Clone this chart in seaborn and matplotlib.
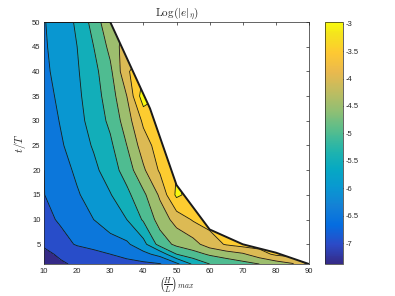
import numpy as np
import matplotlib
matplotlib.use("Agg")
import matplotlib.pyplot as plt
import seaborn as sns
from matplotlib.colors import LinearSegmentedColormap, Normalize
from matplotlib.patches import Polygon

# grid: (H/L)_max along x, t/T along y
hl = [10, 15, 20, 25, 30, 35, 40, 45, 50, 55, 60, 65, 70, 75, 80, 85, 90]
tt = [1, 3, 5, 10, 15, 20, 25, 30, 35, 40, 45, 50]

# Log(|e|_eta), one row per t/T value (cells past the limit curve only pad the grid)
log_err = [
    [-7.25, -7.05, -6.94, -6.86, -6.78, -6.70, -6.61, -6.53, -6.12, -5.42, -5.00, -4.83, -4.67, -4.50, -4.27, -4.05, -3.40],
    [-7.09, -6.94, -6.79, -6.65, -6.50, -6.32, -6.14, -5.83, -5.00, -4.69, -4.43, -4.25, -4.07, -3.71, -3.40, -3.30, -3.30],
    [-6.95, -6.69, -6.45, -6.32, -6.20, -6.08, -5.67, -4.79, -4.38, -4.19, -3.75, -3.45, -3.30, -3.30, -3.30, -3.30, -3.30],
    [-6.65, -6.43, -6.22, -6.00, -5.75, -5.50, -4.94, -4.29, -3.81, -3.45, -3.30, -3.30, -3.30, -3.30, -3.30, -3.30, -3.30],
    [-6.51, -6.28, -6.05, -5.79, -5.53, -5.13, -4.61, -3.92, -2.90, -3.20, -3.30, -3.30, -3.30, -3.30, -3.30, -3.30, -3.30],
    [-6.50, -6.20, -5.91, -5.62, -5.25, -4.78, -4.08, -3.43, -3.00, -3.20, -3.30, -3.30, -3.30, -3.30, -3.30, -3.30, -3.30],
    [-6.37, -6.06, -5.76, -5.45, -5.10, -4.50, -3.75, -3.25, -3.20, -3.20, -3.20, -3.20, -3.20, -3.20, -3.20, -3.20, -3.20],
    [-6.28, -5.97, -5.66, -5.31, -4.89, -4.25, -3.40, -3.15, -3.20, -3.20, -3.20, -3.20, -3.20, -3.20, -3.20, -3.20, -3.20],
    [-6.19, -5.89, -5.60, -5.23, -4.75, -4.00, -2.70, -3.00, -3.20, -3.20, -3.20, -3.20, -3.20, -3.20, -3.20, -3.20, -3.20],
    [-6.10, -5.83, -5.55, -5.16, -4.61, -3.60, -3.00, -3.20, -3.20, -3.20, -3.20, -3.20, -3.20, -3.20, -3.20, -3.20, -3.20],
    [-6.06, -5.78, -5.50, -5.00, -4.36, -3.70, -3.60, -3.60, -3.60, -3.60, -3.60, -3.60, -3.60, -3.60, -3.60, -3.60, -3.60],
    [-6.03, -5.75, -5.43, -4.80, -4.10, -3.95, -3.90, -3.90, -3.90, -3.90, -3.90, -3.90, -3.90, -3.90, -3.90, -3.90, -3.90],
]

# limit curve of the valid region
edge_hl = [10, 30, 42, 50, 60, 70, 80, 90]
edge_tt = [50, 50, 32.5, 17, 8, 5, 3.3, 1]

levels = [-7, -6.5, -6, -5.5, -5, -4.5, -4, -3.5, -3]
cbar_labels = ['-7', '-6.5', '-6', '-5.5', '-5', '-4.5', '-4', '-3.5', '-3']
x_ticks = [10, 20, 30, 40, 50, 60, 70, 80, 90]
y_ticks = [5, 10, 15, 20, 25, 30, 35, 40, 45, 50]

# MATLAB parula
parula = LinearSegmentedColormap.from_list('parula', [
    (0 / 63, (0.2081, 0.1663, 0.5292)),
    (5 / 63, (0.1707, 0.2919, 0.7792)),
    (10 / 63, (0.0165, 0.4266, 0.8786)),
    (15 / 63, (0.0779, 0.5040, 0.8384)),
    (20 / 63, (0.0343, 0.5966, 0.8199)),
    (25 / 63, (0.0267, 0.6642, 0.7607)),
    (30 / 63, (0.1453, 0.7098, 0.6646)),
    (35 / 63, (0.3482, 0.7424, 0.5473)),
    (40 / 63, (0.5709, 0.7485, 0.4494)),
    (45 / 63, (0.7525, 0.7384, 0.3768)),
    (50 / 63, (0.9139, 0.7258, 0.3063)),
    (55 / 63, (0.9955, 0.7861, 0.1967)),
    (60 / 63, (0.9589, 0.8949, 0.1132)),
    (63 / 63, (0.9763, 0.9831, 0.0538)),
])
norm = Normalize(vmin=-7.38, vmax=-2.97)

sns.set_theme(style="white")
plt.rcParams['font.family'] = ['Liberation Sans', 'DejaVu Sans']
plt.rcParams['mathtext.fontset'] = 'cm'
plt.rcParams['axes.unicode_minus'] = False

fig = plt.figure(figsize=(3.95, 2.96), dpi=100)
ax = fig.add_axes([0.1114, 0.108, 0.6709, 0.8176])

X, Y = np.meshgrid(hl, tt)
Z = np.array(log_err)

# MATLAB colours each band by its lower level
fill_levels = [-8] + levels + [-2]
band_colors = [parula(norm(max(l, norm.vmin))) for l in fill_levels[:-1]]
cf = ax.contourf(X, Y, Z, levels=fill_levels, colors=band_colors)
cl = ax.contour(X, Y, Z, levels=levels, colors='k', linewidths=0.6,
                linestyles='solid')

clip = Polygon(list(zip(edge_hl, edge_tt)) + [(90, 1), (10, 1)], closed=True,
               facecolor='none', edgecolor='none', transform=ax.transData)
ax.add_patch(clip)
cf.set_clip_path(clip)
cl.set_clip_path(clip)

ax.plot(edge_hl, edge_tt, color='k', lw=1.4, solid_capstyle='butt', zorder=5)

ax.set_xlim(10, 90)
ax.set_ylim(1, 50)
ax.set_xticks(x_ticks)
ax.set_xticklabels([str(v) for v in x_ticks])
ax.set_yticks(y_ticks)
ax.set_yticklabels([str(v) for v in y_ticks])
ax.tick_params(direction='in', top=True, right=True, length=2.5, width=0.5,
               labelsize=5.5, colors='#262626', pad=2.5)
for s in ax.spines.values():
    s.set_linewidth(0.5)
    s.set_color('#262626')

ax.set_title(r'$\mathrm{Log}(|e|_{\eta})$', fontsize=8, pad=4)
ax.set_xlabel(r'$\left(\frac{H}{L}\right)_{max}$', fontsize=8, labelpad=1)
ax.set_ylabel(r'$t/T$', fontsize=8, labelpad=3)

cax = fig.add_axes([0.8228, 0.108, 0.0456, 0.8176])
sm = plt.cm.ScalarMappable(norm=norm, cmap=parula)
cb = fig.colorbar(sm, cax=cax)
cb.set_ticks(levels)
cb.set_ticklabels(cbar_labels)
cax.tick_params(direction='in', length=2, width=0.5, labelsize=5.5,
                colors='#262626', pad=2)
cb.outline.set_linewidth(0.5)
cb.outline.set_edgecolor('#262626')

fig.savefig('out.png', dpi=100)
